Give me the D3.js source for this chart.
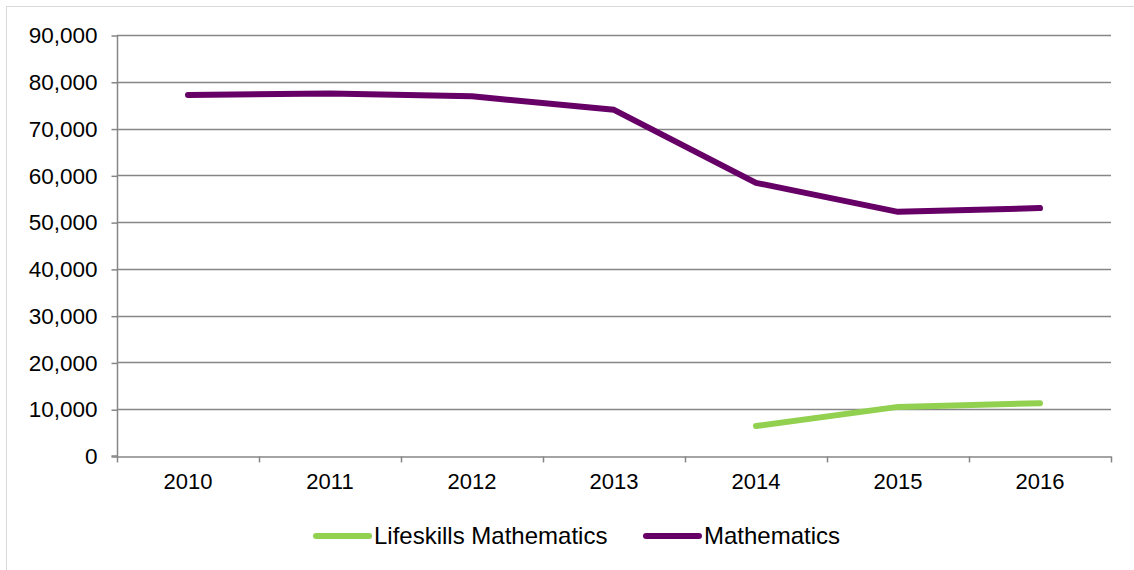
<!DOCTYPE html>
<html>
<head>
<meta charset="utf-8">
<script src="https://cdn.jsdelivr.net/npm/d3@7"></script>
<style>
  body { margin: 0; background: #fff; }
  svg text { font-family: "Liberation Sans", Arial, sans-serif; fill: #000; }
</style>
</head>
<body>
<svg id="chart" width="1134" height="570"></svg>
<script>
var years = ["2010", "2011", "2012", "2013", "2014", "2015", "2016"];
var mathematics = [77200, 77500, 76900, 74000, 58400, 52200, 53000];
var lifeskills = [null, null, null, null, 6400, 10500, 11300];
var yTicks = [0, 10000, 20000, 30000, 40000, 50000, 60000, 70000, 80000, 90000];
var seriesNames = ["Lifeskills Mathematics", "Mathematics"];
var seriesColors = ["#92d050", "#660066"];

var svg = d3.select("#chart");

// outer chart border
svg.append("rect")
    .attr("x", 6.5).attr("y", 6.5)
    .attr("width", 1140).attr("height", 600)
    .attr("fill", "none")
    .attr("stroke", "#d9d9d9");

var plotLeft = 117, plotRight = 1111, plotTop = 35, plotBottom = 456;

var x = d3.scaleBand().domain(years).range([plotLeft, plotRight]);
var y = d3.scaleLinear().domain([0, 90000]).range([plotBottom, plotTop]);

// gridlines
svg.append("g").selectAll("line").data(yTicks.filter(d => d > 0))
    .enter().append("line")
    .attr("x1", plotLeft).attr("x2", plotRight)
    .attr("y1", d => Math.round(y(d)) + 0.5).attr("y2", d => Math.round(y(d)) + 0.5)
    .attr("stroke", "#868686").attr("stroke-width", 1.5);

// y axis
var yAxis = svg.append("g")
    .attr("transform", "translate(" + (plotLeft + 0.5) + ",0.5)")
    .call(d3.axisLeft(y).tickValues(yTicks).tickFormat(d3.format(",")).tickSize(6).tickPadding(14));
yAxis.selectAll("text").style("font-size", "22.5px");

// x axis with ticks at band boundaries
var xAxis = svg.append("g")
    .attr("transform", "translate(0," + (plotBottom + 0.5) + ")")
    .call(d3.axisBottom(x).tickSize(0).tickPadding(17));
xAxis.selectAll("text").style("font-size", "22px");
xAxis.selectAll(".bound").data(years.concat(["end"]))
    .enter().append("line")
    .attr("class", "bound")
    .attr("x1", (d, i) => plotLeft + i * x.step() + 0.5)
    .attr("x2", (d, i) => plotLeft + i * x.step() + 0.5)
    .attr("y1", 0).attr("y2", 6);
svg.selectAll(".domain, .tick line, .bound")
    .attr("stroke", "#868686").attr("stroke-width", 1.5);
yAxis.select(".domain").attr("d", "M-6," + (plotBottom - 0.5) + "H0V" + plotTop);

var line = d3.line()
    .defined(d => d != null)
    .x((d, i) => x(years[i]) + x.bandwidth() / 2)
    .y(d => y(d));

[lifeskills, mathematics].forEach(function (s, i) {
    svg.append("path")
        .datum(s)
        .attr("d", line)
        .attr("fill", "none")
        .attr("stroke", seriesColors[i])
        .attr("stroke-width", 6)
        .attr("stroke-linecap", "round")
        .attr("stroke-linejoin", "round");
});

// legend
var legendX = [316, 646];
seriesNames.forEach(function (name, i) {
    var g = svg.append("g").attr("transform", "translate(" + legendX[i] + ",536)");
    g.append("line")
        .attr("x1", 0).attr("x2", 53)
        .attr("stroke", seriesColors[i]).attr("stroke-width", 6)
        .attr("stroke-linecap", "round");
    g.append("text")
        .attr("x", 58).attr("dy", "0.35em")
        .style("font-size", "24px")
        .text(name);
});
</script>
</body>
</html>
